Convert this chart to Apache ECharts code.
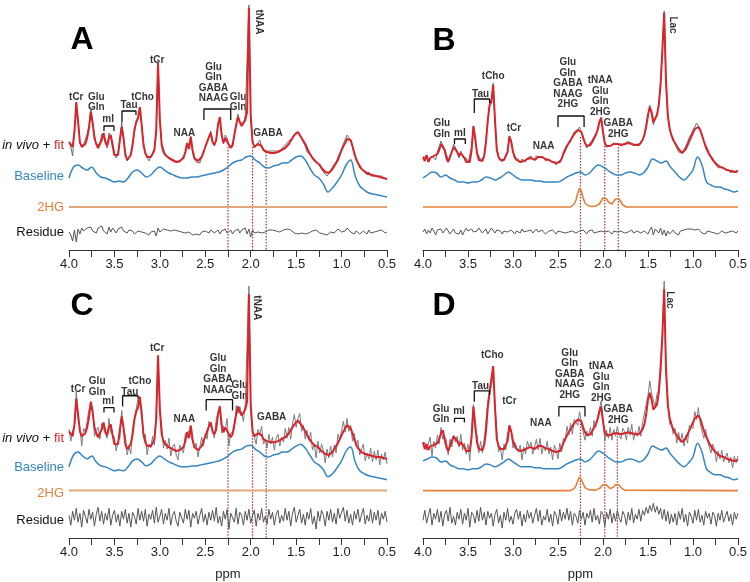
<!DOCTYPE html>
<html><head><meta charset="utf-8">
<script src="https://cdn.jsdelivr.net/npm/echarts/dist/echarts.min.js"></script>
<style>html,body{margin:0;padding:0;background:#fff}#c{width:750px;height:582px}</style>
</head><body><div id="c"></div>
<script>
// sample positions (ppm)
const ppmFine = []; for (let i = 0; i <= 175; i++) ppmFine.push(+(4 - i * 0.02).toFixed(2));
const ppmCoarse = []; for (let i = 0; i <= 70; i++) ppmCoarse.push(+(4 - i * 0.05).toFixed(2));
const hgPpm = []; for (let i = 0; i <= 31; i++) hgPpm.push(+(2.36 - i * 0.02).toFixed(2));

// ---------- Panel A ----------
const fitA = [
108,106,103,118,148,128,108,103,104,106,
112,122,138,127,112,106,102,104,110,117,
108,104,112,115,104,95,93,95,110,123,
112,95,90,89,95,105,120,128,132,143,
125,105,97,93,92,93,96,100,120,187,
130,105,98,95,93,92,91,90,89,88,
88,89,90,92,98,107,101,113,100,92,
90,89,90,93,98,103,108,113,117,108,
105,110,125,133,115,107,112,113,105,102,
105,115,125,133,128,124,126,130,138,242,
135,108,103,104,106,108,104,100,98,98,
97,97,97,97,98,98,99,100,101,102,
104,106,109,112,115,117,118,116,112,109,
106,102,98,95,92,90,88,87,85,82,
80,78,77,77,79,81,84,87,90,95,
100,104,107,111,113,110,104,97,91,87,
84,81,79,78,77,76,75,75,74,74,
73,73,72,72,72,71];
const residA = [
0,-3,-9,2,-10,3,-2,4,1,-1,
4,2,5,1,3,-1,4,2,6,1,
3,-2,5,0,4,2,-1,3,1,5,
1,3,-1,2,0,1,-2,0,1,-1,
0,2,-1,1,-3,0,-2,1,-4,4,
0,2,3,1,2,0,1,-1,2,0,
1,-1,0,2,-1,-2,0,1,-3,-1,
-2,-1,-3,0,-2,1,0,-1,2,1,
-1,0,2,-2,1,-1,3,-1,0,2,
-2,1,0,3,-1,2,1,4,-2,3,
-5,2,-1,1,0,2,-1,1,0,1,
2,1,2,0,1,2,0,1,2,1,
3,1,2,0,-1,1,-2,0,-1,1,
-2,-4,-1,0,1,-1,2,0,-1,1,
-2,0,-3,-1,0,2,-1,1,3,2,
0,2,1,4,3,0,-1,-2,1,0,
-2,-1,1,0,-2,2,-1,1,0,-1,
1,-1,2,0,-1,0];
const baseA = [
72,83,85,82,80,83,77,73,72,70,
68,69,68,72,78,80,77,73,75,80,
83,80,77,75,73,72,72,73,73,74,
75,76,77,78,80,83,87,89,90,93,
94,90,87,83,82,84,85,87,87,90,
93,94,90,82,75,72,66,58,62,68,
75,85,90,74,64,60,57,56,55,54,
53];

// ---------- Panel B ----------
const fitB = [
93,89,95,88,92,90,94,93,96,100,
106,108,100,92,88,90,98,103,105,98,
94,97,96,92,88,86,88,100,124,112,
97,90,88,89,94,108,130,145,148,165,
130,100,93,90,90,90,92,98,114,108,
98,93,90,89,88,88,89,90,91,93,
92,91,90,91,93,94,93,92,91,90,
90,89,88,88,87,87,88,91,96,100,
104,107,110,113,116,118,120,122,118,112,
107,104,104,105,108,110,115,120,128,132,
118,107,104,103,104,105,106,107,106,105,
105,105,106,107,107,107,106,105,105,105,
105,107,110,115,123,135,143,138,128,128,
135,145,165,200,237,170,135,122,115,110,
107,104,101,99,97,98,101,105,109,113,
117,121,123,123,120,115,109,104,100,96,
93,90,88,86,84,83,82,82,81,80,
80,79,79,78,78,79];
const residB = [
0,3,-2,2,-1,4,1,-3,2,0,
3,-1,1,4,2,-2,0,3,-1,1,
-2,2,-3,1,4,1,-1,3,0,-2,
1,4,2,-1,0,3,-2,1,4,2,
-1,2,0,1,-2,1,3,0,-1,2,
0,-2,1,2,-1,3,0,-2,1,0,
2,-1,1,3,0,-1,2,1,-2,0,
1,-1,2,0,-2,1,-1,0,2,-1,
1,0,-2,1,2,-1,0,1,-1,2,
0,-2,1,0,2,-1,1,0,-1,1,
2,0,-1,1,0,-2,1,2,0,-1,
1,0,-1,1,0,1,2,-1,0,1,
2,-1,0,1,3,-2,2,5,-3,3,
1,-1,4,-3,2,-4,1,-2,0,2,
-1,0,-3,1,0,2,3,3,4,3,
3,2,4,3,1,-1,0,-2,1,-1,
0,2,-1,1,-2,0,1,2,-1,1,
0,-2,1,0,-1,1];
const baseB = [
72,75,78,77,73,75,72,70,68,68,
67,68,68,70,73,72,70,72,75,78,
75,72,70,70,70,69,69,68,68,68,
68,70,73,75,77,78,75,77,82,85,
83,80,77,75,75,77,78,77,75,77,
83,91,89,87,89,83,78,73,70,74,
80,93,85,68,65,63,63,61,60,58,
59];
const hgB = [0,1,3,7,14,19,16,9,4,2,1,0.5,0.5,0.5,1,1.5,3,6,9,10,8,5,3,3,5,8,10,8,5,2,1,0];

// ---------- Panel C ----------
const fitC = [
108,106,103,115,141,125,108,103,104,106,
112,122,138,127,112,106,102,104,110,117,
108,104,112,115,104,95,93,95,110,123,
112,95,90,89,95,105,120,128,132,143,
125,105,97,93,92,93,96,100,120,185,
130,105,98,95,93,92,91,90,89,88,
88,89,90,92,98,107,101,114,100,92,
90,89,90,93,98,103,108,113,117,108,
105,110,125,133,115,107,112,113,105,102,
105,115,125,133,128,124,126,130,138,247,
135,108,103,104,106,108,104,100,98,98,
97,97,97,97,98,98,99,100,101,102,
104,106,109,112,115,117,119,118,114,111,
108,104,101,98,96,94,93,92,90,88,
86,85,84,84,85,87,90,93,96,100,
104,108,111,114,114,111,106,100,95,91,
89,87,86,85,84,84,83,83,83,82,
82,82,81,81,81,80];
const residC = [
2,-8,6,-3,9,-5,4,-10,7,1,
-6,8,-2,5,-9,3,10,-4,6,-7,
4,-3,9,-8,2,7,-5,3,-9,6,
-2,8,-6,4,-10,5,1,-7,9,-3,
6,-4,8,-9,3,-2,7,-6,10,-5,
1,8,-7,4,-3,9,-8,2,6,-4,
-9,5,3,-6,8,-2,7,-10,4,-1,
6,-7,2,9,-5,3,-8,5,-3,7,
-4,10,-6,1,-9,6,-2,8,-12,4,
3,-5,9,-7,5,2,-8,6,-3,8,
-6,2,7,-9,4,-3,9,-5,1,-7,
8,-2,5,-8,3,7,-6,2,-4,9,
-3,6,-9,4,10,-5,2,8,-6,3,
-8,5,-2,9,-7,1,-12,6,-4,7,
2,-9,6,-3,8,-5,4,-7,9,-1,
5,10,-4,7,-6,3,-8,6,-2,8,
-5,3,9,-7,2,-4,8,-6,5,-3,
7,-8,4,-2,6,-5];
const baseC = [
72,84,87,83,80,83,77,73,72,70,
68,69,68,72,78,80,77,73,75,80,
83,80,77,75,73,72,72,73,73,74,
75,76,77,78,80,83,87,89,90,93,
94,90,87,83,82,84,85,87,87,90,
93,95,91,84,77,74,69,62,65,71,
78,88,92,77,68,65,63,62,61,60,
59];

// ---------- Panel D ----------
const fitD = [
97,90,95,89,93,91,94,93,96,100,
106,109,100,92,88,90,98,103,105,98,
94,97,96,92,88,86,88,102,133,115,
97,90,88,89,94,108,132,148,150,174,
132,100,93,90,90,90,92,98,114,108,
98,93,90,89,88,88,89,90,91,93,
92,91,90,91,93,94,93,92,91,90,
90,89,88,88,87,87,88,91,96,100,
104,107,110,113,116,118,120,121,118,112,
107,104,104,105,108,110,115,120,128,133,
118,107,104,103,104,105,106,107,106,105,
105,105,106,107,107,107,106,105,105,105,
105,107,110,115,125,140,147,140,130,128,
135,147,170,205,252,172,135,122,115,110,
107,104,101,99,97,98,101,105,109,113,
117,121,123,124,121,115,109,104,100,96,
93,90,88,86,84,83,82,82,81,80,
80,79,79,78,78,79];
const residD = [
-3,7,-6,2,9,-8,4,-2,8,-5,
6,-9,3,7,-4,10,-6,1,-8,5,
-2,8,-7,4,-3,9,-10,5,2,-6,
7,-4,10,-3,5,-8,6,-1,4,-9,
3,8,-6,2,-11,5,-3,9,-5,1,
-7,4,8,-2,6,-9,3,-5,7,-1,
5,-6,2,9,-4,7,-8,1,-3,8,
-5,3,-9,6,2,-7,8,-4,5,-2,
9,-3,6,-8,4,1,-6,7,-2,5,
-8,4,-1,7,-5,9,-3,2,-7,6,
3,-9,5,-2,8,-6,4,-4,7,-1,
-5,6,2,-8,5,-3,9,-6,3,-2,
8,-4,7,2,10,4,12,6,14,5,
11,3,9,-2,8,-4,6,-7,3,-5,
4,-8,6,-2,9,-5,3,-9,5,1,
-6,7,-3,8,-5,2,-8,6,-1,4,
-7,5,2,-9,4,-3,7,-5,1,6,
-4,3,-8,5,-2,4];
const baseD = [
78,80,82,81,77,78,74,72,70,70,
69,70,70,72,75,74,72,74,77,80,
77,74,72,72,72,71,71,70,70,70,
70,72,75,77,79,80,77,79,84,88,
86,82,79,77,77,79,80,79,77,79,
85,93,91,89,91,85,80,75,72,76,
82,96,87,70,66,64,64,62,61,59,
60];
const hgD = [0,1,2,5,10,14,12,7,3,1.5,1,0.5,0.5,0.5,0.5,1,2,4,6,7,5.5,3.5,2,2,3.5,6,7,5.5,3,1.5,0.5,0];

// ---------- annotations: [ppm, height, text, rotate] ----------
const labelsA = [
 [3.92,153,'tCr'],[3.70,148,'Glu\nGln'],[3.57,131,'mI'],[3.34,145,'Tau'],[3.19,153,'tCho'],
 [3.03,190,'tCr'],[2.73,117,'NAA'],[2.41,167.5,'Glu\nGln\nGABA\nNAAG'],[2.14,148,'Glu\nGln'],
 [1.91,228,'tNAA',-90],[1.81,117,'GABA']];
const labelsB = [
 [3.79,121.5,'Glu\nGln'],[3.59,117,'mI'],[3.36,156,'Tau'],[3.22,174,'tCho'],[2.99,122,'tCr'],
 [2.66,104,'NAA'],[2.39,166.5,'Glu\nGln\nGABA\nNAAG\n2HG'],[2.03,154,'tNAA\nGlu\nGln\n2HG'],
 [1.83,121.5,'GABA\n2HG'],[1.23,225,'Lac',-90]];
const labelsC = [
 [3.90,151,'tCr'],[3.69,153,'Glu\nGln'],[3.57,138,'mI'],[3.33,148,'Tau'],[3.22,159,'tCho'],
 [3.03,192,'tCr'],[2.73,120,'NAA'],[2.36,165.5,'Glu\nGln\nGABA\nNAAG'],[2.12,149,'Glu\nGln'],
 [1.93,233,'tNAA',-90],[1.77,122,'GABA']];
const labelsD = [
 [3.80,125.5,'Glu\nGln'],[3.60,128,'mI'],[3.36,154,'Tau'],[3.23,185,'tCho'],[3.04,138,'tCr'],
 [2.69,116,'NAA'],[2.37,166,'Glu\nGln\nGABA\nNAAG\n2HG'],[2.02,157.5,'tNAA\nGlu\nGln\n2HG'],
 [1.83,124.5,'GABA\n2HG'],[1.26,241,'Lac',-90]];

// brackets: [ppmLeft, ppmRight, top, leftEnd, rightEnd]
const bracketsA = [[3.615,3.505,124,119,119],[3.417,3.263,139,128,135],[2.515,2.22,141,130,130]];
const bracketsB = [[3.65,3.53,111,106,106],[3.43,3.26,151,137,147],[2.50,2.21,134,123,123]];
const bracketsC = [[3.615,3.505,132,127,127],[3.41,3.24,144,133,141],[2.49,2.20,140,129,129]];
const bracketsD = [[3.65,3.54,121,117,117],[3.43,3.26,149,138,145],[2.49,2.20,133,123,123]];

// 2HG resonance markers: [ppm, top]
const dotsA = [[2.25,103],[1.98,103],[1.83,98]];
const dotsB = [[2.25,113],[1.98,107],[1.83,103]];
const dotsC = [[2.25,104],[1.98,107],[1.83,99]];
const dotsD = [[2.25,119],[1.98,109],[1.84,106]];

const RED = '#d7252b', BLUE = '#3586c2', ORANGE = '#e5803a', ORANGE_L = '#e3a57c';
const FONT = 'Arial, "Liberation Sans", sans-serif';

const panels = [
 {grid:{left:69, top:0, width:318, height:250}, fit:fitA, res:residA, base:baseA, hg:null, hgOff:43, resOff:18, dots:dotsA, labels:labelsA, brackets:bracketsA, name:'', gray:'#6e6e6e'},
 {grid:{left:423, top:0, width:317, height:250}, fit:fitB, res:residB, base:baseB, hg:hgB, hgOff:43, resOff:18, dots:dotsB, labels:labelsB, brackets:bracketsB, name:'', gray:'#6e6e6e'},
 {grid:{left:69, top:291, width:318, height:250}, fit:fitC, res:residC, base:baseC, hg:null, hgOff:48, resOff:21, dots:dotsC, labels:labelsC, brackets:bracketsC, name:'ppm', gray:'#7d7d7d'},
 {grid:{left:423, top:291, width:317, height:250}, fit:fitD, res:residD, base:baseD, hg:hgD, hgOff:48, resOff:21, dots:dotsD, labels:labelsD, brackets:bracketsD, name:'ppm', gray:'#7d7d7d'}
];

const grids = [], xAxes = [], yAxes = [], series = [];
panels.forEach((p, k) => {
  grids.push(p.grid);
  xAxes.push({gridIndex:k, type:'value', min:0.5, max:4, inverse:true, interval:0.25,
    axisLine:{lineStyle:{color:'#333', width:1}},
    axisTick:{length:7, lineStyle:{color:'#333'}},
    axisLabel:{fontSize:13, color:'#222', fontFamily:FONT, margin:8, showMinLabel:true, showMaxLabel:true,
      formatter: v => { const r = Math.round(v*2)/2; return Math.abs(v-r) < 1e-6 ? v.toFixed(1) : ''; }},
    splitLine:{show:false},
    name:p.name, nameLocation:'middle', nameGap:30, nameTextStyle:{fontSize:13, color:'#222', fontFamily:FONT}});
  yAxes.push({gridIndex:k, type:'value', min:0, max:250, show:false});
  const common = {xAxisIndex:k, yAxisIndex:k, type:'line', showSymbol:false, symbol:'none', clip:false, silent:true};
  // residue
  series.push({...common, data: ppmFine.map((x,i)=>[x, p.res[i] + p.resOff]), lineStyle:{color:'#555', width:1}});
  // 2HG
  let hgData;
  if (p.hg) { hgData = [[4, p.hgOff]].concat(hgPpm.map((x,i)=>[x, p.hg[i] + p.hgOff])).concat([[0.5, p.hgOff]]); }
  else { hgData = [[4, p.hgOff],[0.5, p.hgOff]]; }
  series.push({...common, data: hgData, lineStyle:{color: p.hg ? ORANGE : ORANGE_L, width: p.hg ? 1.6 : 2}});
  // baseline
  series.push({...common, data: ppmCoarse.map((x,i)=>[x, p.base[i]]), smooth:0.35, lineStyle:{color:BLUE, width:1.5}});
  // in vivo
  series.push({...common, data: ppmFine.map((x,i)=>[x, p.fit[i] + p.res[i]]), lineStyle:{color:p.gray, width:1}});
  // fit
  series.push({...common, data: ppmFine.map((x,i)=>[x, p.fit[i]]), lineStyle:{color:RED, width:2}});
  // dotted markers
  p.dots.forEach(d => series.push({...common, data:[[d[0], d[1]],[d[0], 0]], lineStyle:{color:'#a2343a', width:1.2, type:[1.5,1.5]}, z:1}));
  // brackets
  p.brackets.forEach(b => series.push({...common, data:[[b[0],b[3]],[b[0],b[2]],[b[1],b[2]],[b[1],b[4]]], lineStyle:{color:'#111', width:1.3}}));
  // text labels
  series.push({xAxisIndex:k, yAxisIndex:k, type:'scatter', symbolSize:1, itemStyle:{color:'rgba(0,0,0,0)'}, silent:true,
    data: p.labels.map(l => ({value:[l[0], l[1]], label:{show:true, position:'inside', formatter:l[2], rotate:l[3]||0,
      fontSize:10, fontWeight:'bold', color:'#000', lineHeight:10.5, fontFamily:FONT, align:'center', verticalAlign:'middle'}}))});
});

function txt(x, y, text, extra) {
  return {type:'text', x:x, y:y, silent:true, style:Object.assign({text:text, fill:'#111', fontSize:13, fontFamily:FONT,
    align:'right', verticalAlign:'middle', textAlign:'right', textVerticalAlign:'middle'}, extra||{})};
}
const sideLabels = [];
[[0,145,176,207,232],[291,438,467,493,520]].forEach(r => {
  sideLabels.push(txt(64, r[1], '{i|in vivo} + {r|fit}', {rich:{i:{fontStyle:'italic', fill:'#111', fontSize:13, fontFamily:FONT}, r:{fill:RED, fontSize:13, fontFamily:FONT}}}));
  sideLabels.push(txt(64, r[2], 'Baseline', {fill:BLUE}));
  sideLabels.push(txt(64, r[3], '2HG', {fill:ORANGE}));
  sideLabels.push(txt(64, r[4], 'Residue', {fill:'#111'}));
});
const letters = [['A',82,40],['B',444,41],['C',82,306],['D',444,306]].map(l => ({type:'text', x:l[1], y:l[2], silent:true,
  style:{text:l[0], fill:'#000', fontSize:32, fontWeight:'bold', fontFamily:FONT, align:'center', verticalAlign:'middle', textAlign:'center', textVerticalAlign:'middle'}}));

const chart = echarts.init(document.getElementById('c'), null, {renderer:'canvas'});
chart.setOption({animation:false, backgroundColor:'#fff', grid:grids, xAxis:xAxes, yAxis:yAxes, series:series,
  graphic:{elements: sideLabels.concat(letters)}});
</script></body></html>
